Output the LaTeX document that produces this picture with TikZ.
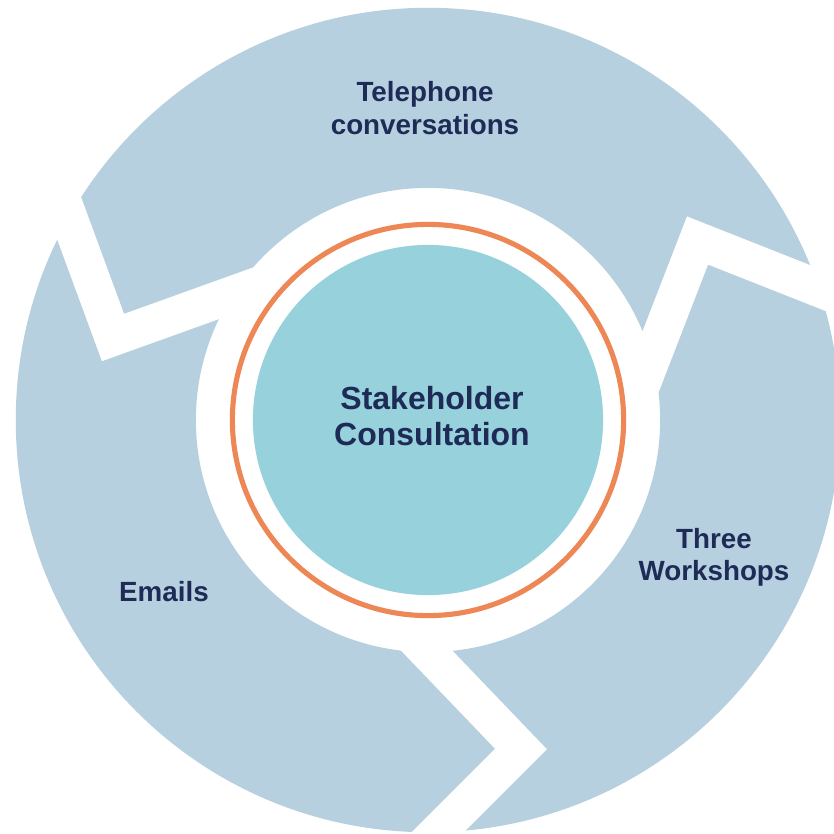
\documentclass[tikz,border=0pt]{standalone}
\usepackage{fontspec}
\setmainfont{Liberation Sans}
\definecolor{ringblue}{HTML}{B7D0DF}
\definecolor{coreteal}{HTML}{96D1DC}
\definecolor{rimorange}{HTML}{EE8756}
\definecolor{inkblue}{HTML}{1F2B57}
\begin{document}
\begin{tikzpicture}[x=0.01cm, y=-0.01cm,
  every node/.style={text=inkblue, align=center, inner sep=0pt},
  item/.style={font=\fontsize{7.9}{9.2}\selectfont\bfseries},
  hub/.style={font=\fontsize{9.1}{10}\selectfont\bfseries},
  gapline/.style={white, line width=0.37cm, miter limit=10}]
\useasboundingbox (0,0) rectangle (834,833);
\clip (0,0) rectangle (834,833);
\fill[white] (0,0) rectangle (834,833);
\fill[ringblue, even odd rule] (428,420) circle[radius=4.12cm] (428,420) circle[radius=2.32cm];
\draw[gapline] (44,150) -- (113,337.5) -- (348,253);
\draw[gapline] (607.5,473) -- (697.5,240.5) -- (883.5,314);
\draw[gapline] (348,568.5) -- (521,749) -- (415,855);
\draw[rimorange, line width=1.45pt, fill=white] (428,420) circle[radius=1.955cm];
\fill[coreteal] (428,420) circle[radius=1.75cm];
\node[hub] (hub) at (432,416) {Stakeholder\\Consultation};
\node[item] (tel) at (425,108) {Telephone\\conversations};
\node[item] (mail) at (164,592) {Emails};
\node[item] (work) at (714,557) {Three\\Workshops};
\end{tikzpicture}
\end{document}
